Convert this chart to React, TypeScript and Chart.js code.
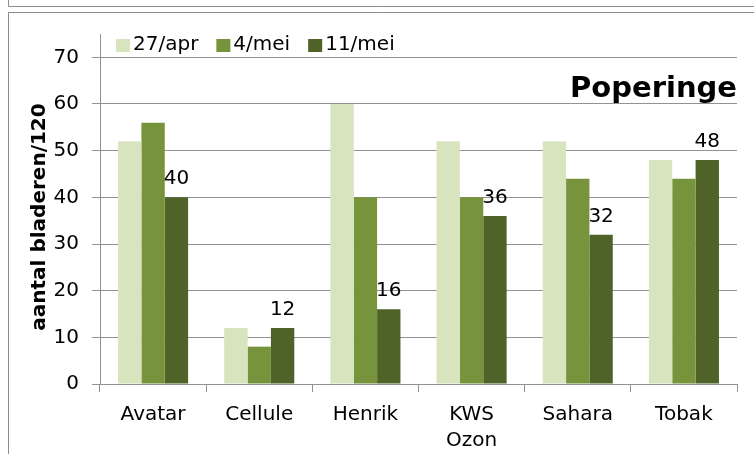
import React, { useEffect, useRef } from "react";
import { Chart, registerables } from "chart.js";

Chart.register(...registerables);

const categories: (string | string[])[] = ["Avatar", "Cellule", "Henrik", ["KWS", "Ozon"], "Sahara", "Tobak"];
const seriesNames = ["27/apr", "4/mei", "11/mei"];
const apr27 = [52, 12, 60, 52, 52, 48];
const mei4 = [56, 8, 40, 40, 44, 44];
const mei11 = [40, 12, 16, 36, 32, 48];
const seriesColors = ["#D7E4BD", "#77933C", "#4F6228"];
const yTicks = [0, 10, 20, 30, 40, 50, 60, 70];
const chartTitle = "Poperinge";
const yTitle = "aantal bladeren/120";

const FONT = "'DejaVu Sans', Verdana, sans-serif";
const GRID = "#929292";

const decorPlugin = {
  id: "decor",
  beforeDraw(chart: any) {
    const ctx = chart.ctx;
    ctx.save();
    ctx.strokeStyle = "#8c8c8c";
    ctx.lineWidth = 1;
    ctx.beginPath();
    ctx.moveTo(8.5, 0);
    ctx.lineTo(8.5, 6.5);
    ctx.lineTo(754, 6.5);
    ctx.moveTo(754, 12.5);
    ctx.lineTo(8.5, 12.5);
    ctx.lineTo(8.5, 454);
    ctx.stroke();
    ctx.restore();
  },
  afterDatasetsDraw(chart: any) {
    const ctx = chart.ctx;
    const meta = chart.getDatasetMeta(2);
    ctx.save();
    ctx.fillStyle = "#000";
    ctx.font = `20px ${FONT}`;
    ctx.textAlign = "center";
    ctx.textBaseline = "alphabetic";
    meta.data.forEach((bar: any, i: number) => {
      ctx.fillText(String(mei11[i]), bar.x, bar.y - 13);
    });
    ctx.restore();
  },
  afterDraw(chart: any) {
    const ctx = chart.ctx;
    ctx.save();
    ctx.font = `20px ${FONT}`;
    ctx.textBaseline = "middle";
    ctx.textAlign = "left";
    let x = 116;
    const y = 45;
    seriesNames.forEach((name, i) => {
      ctx.fillStyle = seriesColors[i];
      ctx.fillRect(x, 39, 14, 13);
      ctx.fillStyle = "#000";
      ctx.fillText(name, x + 17, y);
      x += 17 + ctx.measureText(name).width + 18;
    });
    ctx.font = `bold 29px ${FONT}`;
    ctx.textAlign = "right";
    ctx.textBaseline = "alphabetic";
    ctx.fillText(chartTitle, chart.chartArea.right, 97);
    ctx.translate(45, 217);
    ctx.rotate(-Math.PI / 2);
    ctx.font = `bold 20px ${FONT}`;
    ctx.textAlign = "center";
    ctx.fillText(yTitle, 0, 0);
    ctx.restore();
  },
};

export default function App() {
  const ref = useRef<HTMLCanvasElement>(null);
  useEffect(() => {
    const chart = new Chart(ref.current!, {
      type: "bar",
      data: {
        labels: categories,
        datasets: [apr27, mei4, mei11].map((d, i) => ({
          label: seriesNames[i],
          data: d,
          backgroundColor: seriesColors[i],
          borderWidth: 0,
          barPercentage: 1,
          categoryPercentage: 0.66,
        })),
      },
      options: {
        animation: false,
        responsive: false,
        layout: { padding: { left: 0, right: 17, top: 34, bottom: 0 } },
        plugins: { legend: { display: false }, tooltip: { enabled: false } },
        scales: {
          x: {
            offset: true,
            grid: { offset: true, drawOnChartArea: false, drawTicks: true, tickLength: 8, color: GRID },
            border: { color: GRID },
            ticks: { color: "#000", font: { family: FONT, size: 20, lineHeight: 1.33 }, padding: 9, maxRotation: 0, autoSkip: false },
            afterFit: (s: any) => { s.height = 70; },
          },
          y: {
            min: 0,
            max: 75,
            grid: { color: GRID, tickLength: 8 },
            border: { color: GRID },
            ticks: { stepSize: 10, color: "#000", font: { family: FONT, size: 20 }, padding: 13 },
            afterBuildTicks: (s: any) => { s.ticks = yTicks.map((v) => ({ value: v })); },
            afterFit: (s: any) => { s.width = 100; },
          },
        },
      },
      plugins: [decorPlugin],
    });
    return () => chart.destroy();
  }, []);
  return (
    <div style={{ position: "fixed", left: 0, top: 0, width: 754, height: 454, background: "#fff" }}>
      <canvas ref={ref} width={754} height={454} style={{ width: 754, height: 454, display: "block" }} />
    </div>
  );
}
